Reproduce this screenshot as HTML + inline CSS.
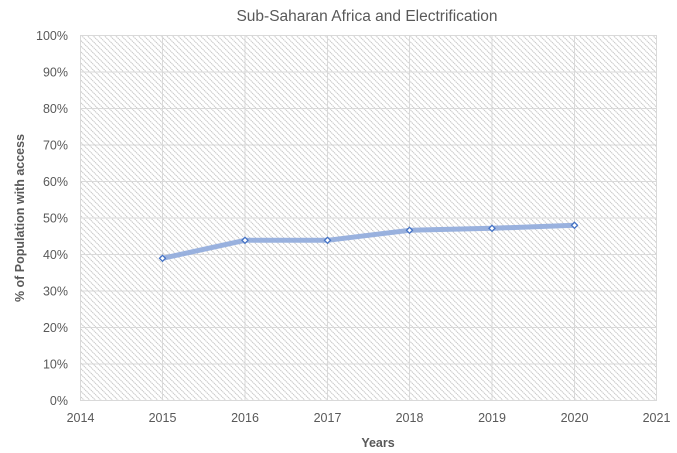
<!DOCTYPE html>
<html><head><meta charset="utf-8"><style>
html,body{margin:0;padding:0;background:#fff;}
svg{display:block;font-family:"Liberation Sans",sans-serif;}
</style></head><body>
<svg width="677" height="453" viewBox="0 0 677 453" xmlns="http://www.w3.org/2000/svg">
<defs>
<pattern id="h" patternUnits="userSpaceOnUse" width="4" height="4" patternTransform="rotate(-45)">
<rect width="4" height="4" fill="#fff"/>
<line x1="0.5" y1="0" x2="0.5" y2="4" stroke="#c4c4c4" stroke-width="1" stroke-dasharray="1.4,0.6"/>
</pattern>
</defs>
<rect width="677" height="453" fill="#fff"/>
<text x="367" y="21" text-anchor="middle" font-size="15.5" fill="#595959">Sub-Saharan Africa and Electrification</text>
<rect x="80" y="35" width="577" height="365.5" fill="url(#h)"/>
<g stroke="#d9d9d9" stroke-width="1">
<line x1="80" y1="35.5" x2="657" y2="35.5"/>
<line x1="80" y1="72" x2="657" y2="72"/>
<line x1="80" y1="108.5" x2="657" y2="108.5"/>
<line x1="80" y1="145" x2="657" y2="145"/>
<line x1="80" y1="181.5" x2="657" y2="181.5"/>
<line x1="80" y1="218" x2="657" y2="218"/>
<line x1="80" y1="254.5" x2="657" y2="254.5"/>
<line x1="80" y1="291" x2="657" y2="291"/>
<line x1="80" y1="327.5" x2="657" y2="327.5"/>
<line x1="80" y1="364" x2="657" y2="364"/>
<line x1="80" y1="400.5" x2="657" y2="400.5"/>
<line x1="80.5" y1="35" x2="80.5" y2="400.5"/>
<line x1="162.5" y1="35" x2="162.5" y2="400.5"/>
<line x1="245" y1="35" x2="245" y2="400.5"/>
<line x1="327.5" y1="35" x2="327.5" y2="400.5"/>
<line x1="409.5" y1="35" x2="409.5" y2="400.5"/>
<line x1="492" y1="35" x2="492" y2="400.5"/>
<line x1="574.5" y1="35" x2="574.5" y2="400.5"/>
<line x1="656.5" y1="35" x2="656.5" y2="400.5"/>
</g>
<g font-size="12.5" fill="#595959" text-anchor="end">
<text x="68" y="40">100%</text>
<text x="68" y="76.5">90%</text>
<text x="68" y="113">80%</text>
<text x="68" y="149.5">70%</text>
<text x="68" y="186">60%</text>
<text x="68" y="222.5">50%</text>
<text x="68" y="259">40%</text>
<text x="68" y="295.5">30%</text>
<text x="68" y="332">20%</text>
<text x="68" y="368.5">10%</text>
<text x="68" y="405">0%</text>
</g>
<g font-size="12.5" fill="#595959" text-anchor="middle">
<text x="80.5" y="422">2014</text>
<text x="162.5" y="422">2015</text>
<text x="245" y="422">2016</text>
<text x="327.5" y="422">2017</text>
<text x="409.5" y="422">2018</text>
<text x="492" y="422">2019</text>
<text x="574.5" y="422">2020</text>
<text x="656.5" y="422">2021</text>
</g>
<text x="378" y="447" text-anchor="middle" font-size="12.5" font-weight="bold" fill="#595959">Years</text>
<text transform="translate(24,218) rotate(-90)" text-anchor="middle" font-size="12.5" font-weight="bold" fill="#595959">% of Population with access</text>
<polyline points="162.5,258.3 245,240.3 327.5,240.3 409.5,230.3 492,228.3 574.5,225.3" fill="none" stroke="#8faadc" stroke-width="5" stroke-linejoin="round" stroke-linecap="round" opacity="0.9"/>
<g fill="#fff" stroke="#4472c4" stroke-width="1.3">
<path d="M162.5,255.3 L165.5,258.3 L162.5,261.3 L159.5,258.3 Z"/>
<path d="M245,237.3 L248,240.3 L245,243.3 L242,240.3 Z"/>
<path d="M327.5,237.3 L330.5,240.3 L327.5,243.3 L324.5,240.3 Z"/>
<path d="M409.5,227.3 L412.5,230.3 L409.5,233.3 L406.5,230.3 Z"/>
<path d="M492,225.3 L495,228.3 L492,231.3 L489,228.3 Z"/>
<path d="M574.5,222.3 L577.5,225.3 L574.5,228.3 L571.5,225.3 Z"/>
</g>
</svg>
</body></html>
